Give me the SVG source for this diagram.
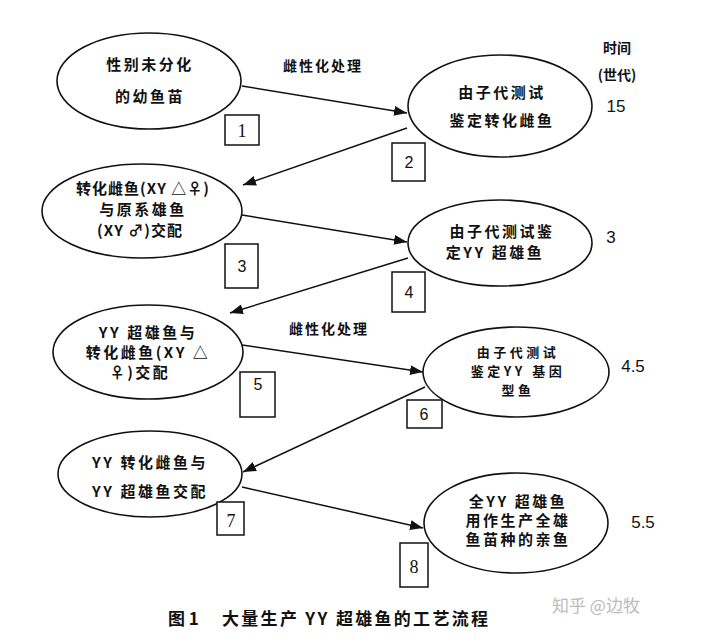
<svg xmlns="http://www.w3.org/2000/svg" width="715" height="640" viewBox="0 0 715 640">
<style>
.n ellipse{fill:#fff;stroke:#111;stroke-width:1.6}
.t{font-family:"Noto Sans CJK SC","Liberation Sans",sans-serif;font-size:15px;font-weight:bold;fill:#111;text-anchor:middle;letter-spacing:2.5px}
.b rect{fill:#fff;stroke:#111;stroke-width:1.5}
.bn{font-family:"Liberation Sans",sans-serif;font-size:16px;fill:#111;text-anchor:middle}
.bs{font-family:"Liberation Serif",serif;font-size:18px;fill:#111;text-anchor:middle}
.tm{font-family:"Noto Sans CJK SC","Liberation Sans",sans-serif;font-size:14px;font-weight:bold;fill:#111;text-anchor:middle}
.num{font-family:"Liberation Sans",sans-serif;font-size:17px;fill:#111;text-anchor:middle}
.lab{font-family:"Noto Sans CJK SC","Liberation Sans",sans-serif;font-size:14px;font-weight:bold;fill:#111;letter-spacing:2px}
.cap{font-family:"Noto Sans CJK SC","Liberation Serif",serif;font-size:17px;font-weight:bold;fill:#111}
#edges line{stroke:#111;stroke-width:1.5;marker-end:url(#ah)}
</style>
<defs>
<marker id="ah" markerUnits="userSpaceOnUse" markerWidth="14" markerHeight="10" refX="13" refY="5" orient="auto">
<path d="M0,0 L13,5 L0,10 z" fill="#111"/>
</marker>
</defs>
<rect width="715" height="640" fill="#fff"/>

<g id="edges">
<line x1="242" y1="86" x2="407" y2="113"/>
<line x1="407" y1="128" x2="243" y2="185"/>
<line x1="242" y1="215" x2="407" y2="242"/>
<line x1="408" y1="258" x2="230" y2="313"/>
<line x1="242" y1="345" x2="423" y2="372"/>
<line x1="425" y1="387" x2="243" y2="472"/>
<line x1="242" y1="487" x2="423" y2="528"/>
</g>

<g id="node1" class="n">
<ellipse cx="149" cy="81" rx="92" ry="48"/>
<text class="t" x="150" y="70">性别未分化</text>
<text class="t" x="150" y="102">的幼鱼苗</text>
</g>
<g id="node2" class="n">
<ellipse cx="500" cy="106" rx="92" ry="51"/>
<text class="t" x="502" y="98">由子代测试</text>
<text class="t" x="502" y="126">鉴定转化雌鱼</text>
</g>
<g id="node3" class="n">
<ellipse cx="142" cy="211" rx="100" ry="47"/>
<text class="t" x="143" y="194" style="letter-spacing:1px">转化雌鱼(XY △♀)</text>
<text class="t" x="143" y="215">与原系雄鱼</text>
<text class="t" x="140" y="236" style="letter-spacing:1px">(XY ♂)交配</text>
</g>
<g id="node4" class="n">
<ellipse cx="500" cy="243" rx="92" ry="43"/>
<text class="t" x="502" y="237">由子代测试鉴</text>
<text class="t" x="495" y="258">定YY 超雄鱼</text>
</g>
<g id="node5" class="n">
<ellipse cx="148" cy="352" rx="95" ry="47"/>
<text class="t" x="148" y="338">YY 超雄鱼与</text>
<text class="t" x="148" y="358">转化雌鱼(XY △</text>
<text class="t" x="140" y="378">♀)交配</text>
</g>
<g id="node6" class="n">
<ellipse cx="516" cy="372" rx="93" ry="45"/>
<text class="t" x="518" y="357" style="font-size:13px;letter-spacing:3.5px">由子代测试</text>
<text class="t" x="518" y="376" style="font-size:13px;letter-spacing:3.5px">鉴定YY 基因</text>
<text class="t" x="518" y="395" style="font-size:13px;letter-spacing:3.5px">型鱼</text>
</g>
<g id="node7" class="n">
<ellipse cx="150" cy="474" rx="92" ry="43"/>
<text class="t" x="150" y="468">YY 转化雌鱼与</text>
<text class="t" x="150" y="497">YY 超雄鱼交配</text>
</g>
<g id="node8" class="n">
<ellipse cx="516" cy="523" rx="92" ry="50"/>
<text class="t" x="518" y="507">全YY 超雄鱼</text>
<text class="t" x="518" y="526">用作生产全雄</text>
<text class="t" x="518" y="545">鱼苗种的亲鱼</text>
</g>

<g id="box1" class="b"><rect x="225" y="115" width="34" height="30"/><text class="bs" x="242" y="137">1</text></g>
<g id="box2" class="b"><rect x="392" y="143" width="33" height="38"/><text class="bn" x="409" y="168">2</text></g>
<g id="box3" class="b"><rect x="225" y="244" width="33" height="44"/><text class="bn" x="242" y="272">3</text></g>
<g id="box4" class="b"><rect x="392" y="272" width="33" height="40"/><text class="bn" x="409" y="298">4</text></g>
<g id="box5" class="b"><rect x="240" y="372" width="35" height="45"/><text class="bn" x="258" y="390">5</text></g>
<g id="box6" class="b"><rect x="407" y="400" width="35" height="28"/><text class="bn" x="424" y="420">6</text></g>
<g id="box7" class="b"><rect x="217" y="502" width="27" height="33"/><text class="bs" x="231" y="527">7</text></g>
<g id="box8" class="b"><rect x="400" y="543" width="28" height="44"/><text class="bs" x="414" y="573">8</text></g>

<text class="lab" x="283" y="71">雌性化处理</text>
<text class="lab" x="289" y="334">雌性化处理</text>

<text class="tm" x="617" y="53">时间</text>
<text class="tm" x="617" y="80">(世代)</text>
<text class="num" x="616" y="112">15</text>
<text class="num" x="611" y="243">3</text>
<text class="num" x="633" y="372">4.5</text>
<text class="num" x="643" y="528">5.5</text>

<text class="cap" x="168" y="625">图 1</text>
<text class="cap" x="222" y="625" textLength="266" lengthAdjust="spacing">大量生产 YY 超雄鱼的工艺流程</text>
<text x="552" y="612" font-family="Noto Sans CJK SC, Liberation Sans, sans-serif" font-size="17" fill="#bbb">知乎 @边牧</text>
</svg>
